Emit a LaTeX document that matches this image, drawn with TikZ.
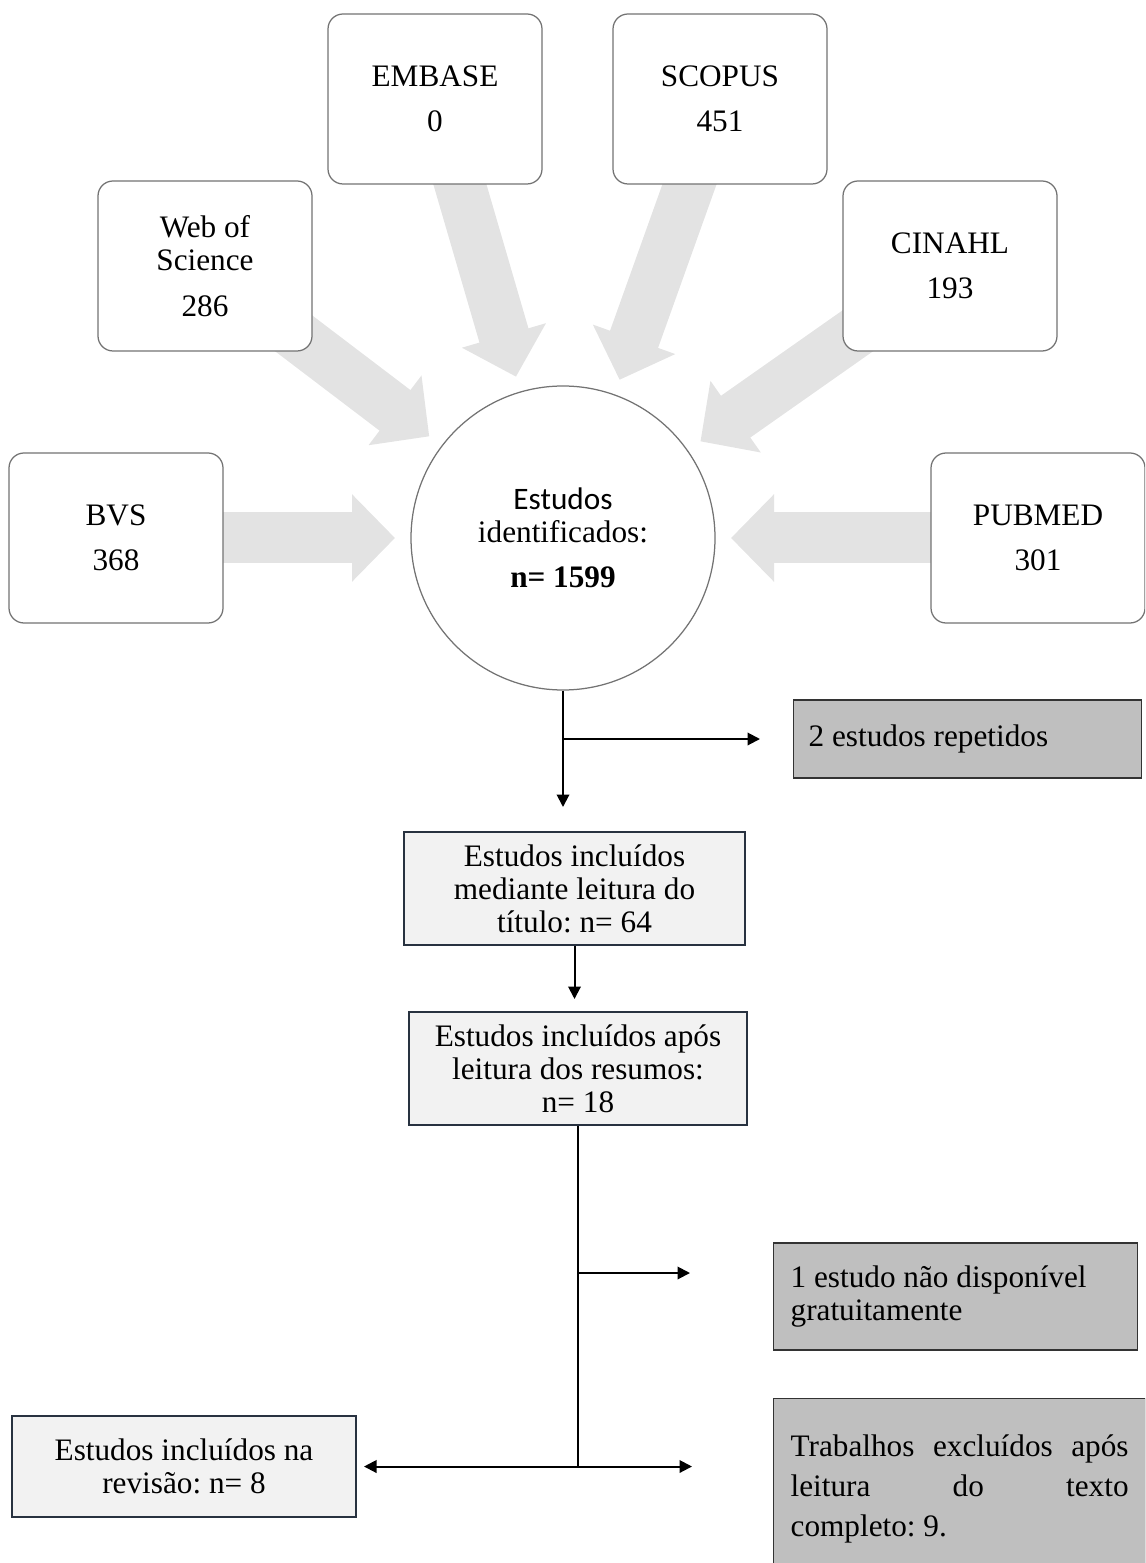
\documentclass[tikz,border=0pt]{standalone}
\usepackage{fontspec}
\setmainfont{Liberation Serif}
\newfontfamily\calibri{Carlito}
\usetikzlibrary{arrows.meta,calc,backgrounds}
\frenchspacing

\definecolor{feedgray}{RGB}{227,227,227}
\definecolor{inclline}{RGB}{40,50,64}
\definecolor{inclfill}{RGB}{242,242,242}
\definecolor{exclfill}{RGB}{191,191,191}

\begin{document}
\begin{tikzpicture}[x=0.4pt, y=-0.4pt,
  every node/.style={font=\fontsize{12.5}{13.2}\selectfont},
  src/.style={draw=black!55, line width=0.5pt, fill=white, rounded corners=6pt, minimum width=85.6pt, minimum height=68pt, align=flush center, inner sep=0pt},
  hub/.style={circle, draw=black!55, line width=0.5pt, fill=white, minimum size=121.6pt, inner sep=0pt, align=flush center},
  feed/.style={draw=feedgray, line width=20.4pt, -{Triangle[width=34pt,length=17.2pt]}},
  incl/.style={draw=inclline, line width=0.8pt, fill=inclfill, align=flush center, inner sep=0pt},
  excl/.style={draw=black!80, line width=0.5pt, fill=exclfill, align=flush left, anchor=west, inner xsep=6.8pt, inner ysep=0pt},
  flow/.style={line width=0.8pt, -{Triangle[length=5pt,width=5pt]}}]
  \useasboundingbox (0,0) rectangle (1145,1563);
  \clip (0,0) rectangle (1145,1563);

  % bases de dados
  \node[hub] (hub) at (563,538) {{\calibri Estudos}\\identificados:\\[5pt]\textbf{n= 1599}};
  \node[src] (embase) at (435,99) {EMBASE\\[5pt]0};
  \node[src] (scopus) at (720,99) {SCOPUS\\[5pt]451};
  \node[src] (wos) at (205,266) {Web of\\Science\\[5pt]286};
  \node[src] (cinahl) at (950,266) {CINAHL\\[5pt]193};
  \node[src] (bvs) at (116,538) {BVS\\[5pt]368};
  \node[src] (pubmed) at (1038,538) {PUBMED\\[5pt]301};
  \begin{scope}[on background layer]
    \foreach \s in {embase,scopus,wos,cinahl,bvs,pubmed}
      \draw[feed] (\s.center) -- ($(hub.center)!67.2pt!(\s.center)$);
  \end{scope}

  % triagem
  \node[excl, text width=127.2pt, minimum height=31.2pt, inner xsep=6pt] (rep) at (793,739) {2 estudos repetidos};
  \node[incl, minimum width=136.4pt, minimum height=45.2pt] (tit) at (574.5,888.5) {Estudos incluídos\\mediante leitura do\\título: n= 64};
  \node[incl, minimum width=135.2pt, minimum height=45.2pt] (res) at (578,1068.5) {Estudos incluídos após\\leitura dos resumos:\\n= 18};
  \node[excl, text width=132pt, minimum height=42.8pt] (indisp) at (773,1296.5) {1 estudo não disponível\\gratuitamente};
  \node[incl, minimum width=137.6pt, minimum height=40.4pt] (rev) at (184,1466.5) {Estudos incluídos na\\revisão: n= 8};
  \node[excl, anchor=north west, text width=135.2pt, inner ysep=14.4pt, text depth=40pt, font=\fontsize{12.5}{16}\selectfont] (texto) at (773,1398)
    {Trabalhos\hfill excluídos\hfill após\\leitura\hfill do\hfill texto\\completo: 9.};

  \draw[flow, shorten >=9.6pt] (hub.south) -- (hub.south |- tit.north);
  \draw[flow, shorten >=13.2pt] (hub.south |- rep.west) -- (rep.west);
  \draw[flow, shorten >=4.8pt] (tit.south) -- (tit.south |- res.north);
  \coordinate (fork) at (res.south |- rev.east);
  \coordinate (b1) at ($(res.south)+(0,147)$);
  \draw[line width=0.8pt] (res.south) -- (fork);
  \draw[flow, shorten >=33.2pt] (b1) -- (b1 -| indisp.west);
  \draw[flow, shorten >=2.8pt] (fork) -- (rev.east);
  \draw[flow, shorten >=32.4pt] (fork) -- (fork -| texto.west);
\end{tikzpicture}
\end{document}
